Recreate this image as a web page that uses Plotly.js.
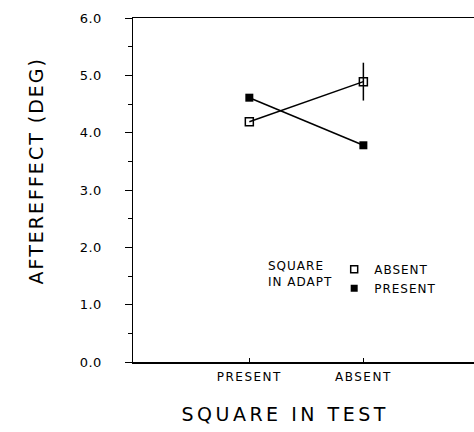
<!DOCTYPE html>
<html>
<head>
<meta charset="utf-8">
<script src="https://cdn.plot.ly/plotly-3.0.1.min.js"></script>
<style>
html,body{margin:0;padding:0;background:#fff;}
#chart{width:474px;height:432px;}
.annotation-text{letter-spacing:1px;}
.xtick text{letter-spacing:1.5px;}
.ytick text{letter-spacing:0.5px;}
.legendtext{letter-spacing:1px;}
</style>
</head>
<body>
<div id="chart"></div>
<script>
// Categories: square in test
var testCategories = ['PRESENT', 'ABSENT'];
// Series: square in adapt
var absentAdaptValues = [4.19, 4.89];
var absentAdaptErrors = [0, 0.33];
var presentAdaptValues = [4.61, 3.78];
var seriesNames = ['ABSENT', 'PRESENT'];
var yTickVals = [0, 1, 2, 3, 4, 5, 6];

var FONT = 'DejaVu Sans, Liberation Sans, sans-serif';

var traces = [
  {
    x: testCategories, y: absentAdaptValues, type: 'scatter', mode: 'lines+markers',
    line: {color: '#000', width: 1.5},
    marker: {symbol: 'square-open', size: 8, color: '#000', line: {width: 1.5, color: '#000'}},
    error_y: {type: 'data', array: absentAdaptErrors, visible: true, color: '#000', thickness: 1.5, width: 0},
    showlegend: false, cliponaxis: false
  },
  {
    x: testCategories, y: presentAdaptValues, type: 'scatter', mode: 'lines+markers',
    line: {color: '#000', width: 1.5},
    marker: {symbol: 'square', size: 8, color: '#000'},
    showlegend: false, cliponaxis: false
  },
  {
    x: [null], y: [null], type: 'scatter', mode: 'markers', name: seriesNames[0],
    marker: {symbol: 'square-open', size: 7, color: '#000', line: {width: 1.5, color: '#000'}},
    showlegend: true
  },
  {
    x: [null], y: [null], type: 'scatter', mode: 'markers', name: seriesNames[1],
    marker: {symbol: 'square', size: 7, color: '#000'},
    showlegend: true
  }
];

var layout = {
  width: 474, height: 432,
  margin: {l: 133, r: 0, t: 18, b: 70, pad: 0},
  paper_bgcolor: '#fff', plot_bgcolor: '#fff',
  font: {family: FONT, color: '#000', size: 12},
  showlegend: true,
  legend: {
    x: 0.59, y: 0.312, xanchor: 'left', yanchor: 'top',
    bgcolor: 'rgba(0,0,0,0)', borderwidth: 0,
    font: {family: FONT, size: 12, color: '#000'},
    tracegroupgap: 0, itemwidth: 30
  },
  xaxis: {
    type: 'category', range: [-1.02, 1.97],
    showline: true, linecolor: '#000', linewidth: 1.5, mirror: true,
    showgrid: false, zeroline: false,
    ticks: 'inside', ticklen: 4, tickcolor: '#000', tickwidth: 1,
    tickfont: {family: FONT, size: 12, color: '#000'},
    ticklabelstandoff: 3
  },
  yaxis: {
    range: [0, 6], tickvals: yTickVals, tickformat: '.1f',
    showline: true, linecolor: '#000', linewidth: 1.5,
    showgrid: false, zeroline: false,
    ticks: 'outside', ticklen: 7, tickcolor: '#000', tickwidth: 1,
    minor: {dtick: 0.5, ticks: 'outside', ticklen: 4, tickcolor: '#000', tickwidth: 1, showgrid: false},
    tickfont: {family: FONT, size: 13, color: '#000'},
    ticklabelstandoff: 20
  },
  annotations: [
    {text: 'AFTEREFFECT (DEG)', textangle: -90, xref: 'paper', yref: 'paper',
     x: -0.285, y: 0.555, xanchor: 'center', yanchor: 'middle', showarrow: false,
     font: {family: FONT, size: 19, color: '#000'}},
    {text: 'SQUARE IN TEST', xref: 'paper', yref: 'paper',
     x: 0.445, y: -0.151, xanchor: 'center', yanchor: 'middle', showarrow: false,
     font: {family: FONT, size: 19, color: '#000'}},
    {text: 'SQUARE<br>IN ADAPT', xref: 'paper', yref: 'paper', align: 'left',
     x: 0.39, y: 0.306, xanchor: 'left', yanchor: 'top', showarrow: false,
     font: {family: FONT, size: 12, color: '#000'}}
  ]
};

Plotly.newPlot('chart', traces, layout, {displayModeBar: false, staticPlot: true}).then(function(){
  var ann = document.querySelectorAll('.annotation-text');
  if (ann[0]) ann[0].style.letterSpacing = '2px';
  if (ann[1]) ann[1].style.letterSpacing = '3.5px';
});
</script>
</body>
</html>
